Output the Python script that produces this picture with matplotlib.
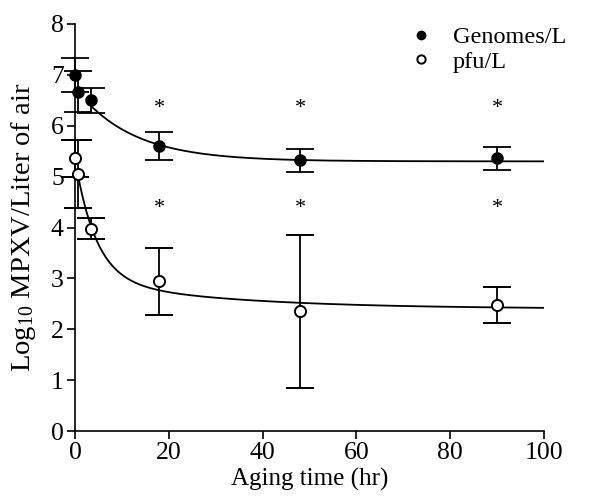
import numpy as np
import matplotlib
matplotlib.use("Agg")
import matplotlib.pyplot as plt
from matplotlib.lines import Line2D

plt.rcParams['font.family'] = ['Liberation Serif', 'DejaVu Serif']
plt.rcParams['mathtext.fontset'] = 'custom'
plt.rcParams['mathtext.rm'] = 'Liberation Serif'
plt.rcParams['mathtext.it'] = 'Liberation Serif:italic'

# Data
time_hr = [0, 0.75, 3.5, 18, 48, 90]
genomes = [7.0, 6.67, 6.5, 5.6, 5.32, 5.36]
genomes_err = [0.33, 0.4, 0.24, 0.27, 0.23, 0.22]
pfu = [5.36, 5.05, 3.98, 2.94, 2.35, 2.48]
pfu_err = [0.36, 0.67, 0.2, 0.65, 1.5, 0.36]
star_times = [18, 48, 90]
star_genome_y = [6.33, 6.33, 6.33]
star_pfu_y = [4.38, 4.38, 4.38]
series_labels = ['Genomes/L', 'pfu/L']

# Fitted decay models
gen_fit = dict(a=5.3, b=1.45, t=12.0, start=3.0)
pfu_fit = dict(a=2.4, b1=2.37, t1=4.45, b2=0.59, t2=30.0, start=0.5)

fig = plt.figure(figsize=(5.89, 5.04), dpi=100)
ax = fig.add_axes([0.1273, 0.1448, 0.7963, 0.8076])

xg = np.linspace(gen_fit['start'], 100, 400)
yg = gen_fit['a'] + gen_fit['b'] * np.exp(-xg / gen_fit['t'])
xp = np.linspace(pfu_fit['start'], 100, 400)
yp = (pfu_fit['a'] + pfu_fit['b1'] * np.exp(-xp / pfu_fit['t1'])
      + pfu_fit['b2'] * np.exp(-xp / pfu_fit['t2']))
ax.plot(xg, yg, color='black', lw=1.3, zorder=2)
ax.plot(xp, yp, color='black', lw=1.3, zorder=2)

ax.errorbar(time_hr, genomes, yerr=genomes_err, fmt='o', color='black',
            mfc='black', mec='black', ms=8, capsize=10, elinewidth=1.3,
            capthick=1.3, zorder=3, clip_on=False)
ax.errorbar(time_hr, pfu, yerr=pfu_err, fmt='o', color='black',
            mfc='white', mec='black', mew=1.4, ms=8, capsize=10, elinewidth=1.3,
            capthick=1.3, zorder=3, clip_on=False)

for t, yv in zip(star_times, star_genome_y):
    ax.text(t, yv, '*', ha='center', va='center', fontsize=16)
for t, yv in zip(star_times, star_pfu_y):
    ax.text(t, yv, '*', ha='center', va='center', fontsize=16)

ax.set_xlim(0, 100)
ax.set_ylim(0, 8)
ax.set_xticks(np.arange(0, 101, 20))
ax.set_yticks(np.arange(0, 9, 1))
ax.spines['top'].set_visible(False)
ax.spines['right'].set_visible(False)
ax.spines['left'].set_linewidth(1.2)
ax.spines['bottom'].set_linewidth(1.2)
ax.tick_params(axis='both', direction='out', length=6, width=1.2,
               labelsize=18.5, pad=2)
ax.set_xlabel('Aging time (hr)', fontsize=18, labelpad=3)
ax.set_ylabel('Log$_{10}$ MPXV/Liter of air', fontsize=20.5, labelpad=9)

handles = [
    Line2D([], [], ls='none', marker='o', ms=6, mfc='black', mec='black'),
    Line2D([], [], ls='none', marker='o', ms=6, mfc='white', mec='black', mew=1.4),
]
ax.legend(handles, series_labels, loc='upper left', bbox_to_anchor=(0.712, 0.995),
          frameon=False, fontsize=17.5, handlelength=1.0, handletextpad=0.8,
          borderpad=0, borderaxespad=0, labelspacing=0.12)

fig.savefig('out.png', dpi=100)
